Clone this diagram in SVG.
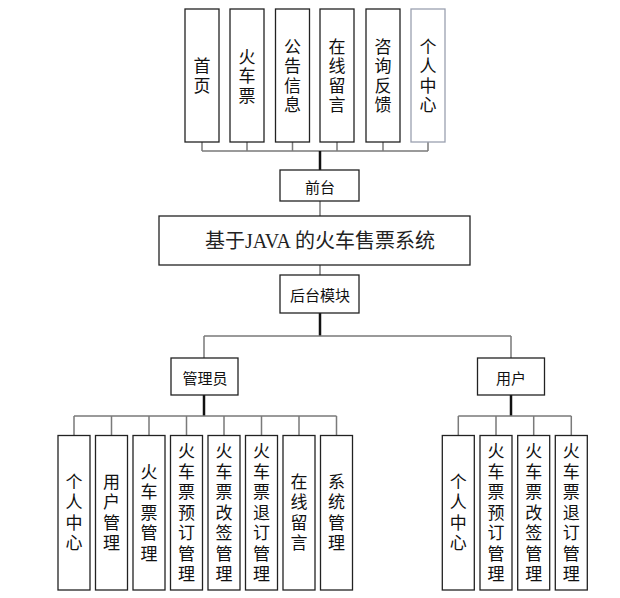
<svg xmlns="http://www.w3.org/2000/svg" width="620" height="598" viewBox="0 0 620 598">
<style>
  .box { fill: #ffffff; stroke: #222222; stroke-width: 1.3; }
  .lite { stroke: #9aa0b0; }
  .ln { fill: none; stroke: #7a7a7a; stroke-width: 1.5; }
  .stem { fill: none; stroke: #111111; stroke-width: 2.5; }
  .vt { font-family: "Noto Sans CJK SC", "Liberation Sans", sans-serif; font-size: 17px; fill: #111; text-anchor: middle; writing-mode: vertical-rl; letter-spacing: 2.5px; }
  .vb { font-family: "Noto Sans CJK SC", "Liberation Sans", sans-serif; font-size: 17px; fill: #111; text-anchor: middle; writing-mode: vertical-rl; letter-spacing: 3.5px; }
  .lbl { font-family: "Noto Sans CJK SC", "Liberation Sans", sans-serif; font-size: 15px; fill: #111; text-anchor: middle; dominant-baseline: central; }
  .title { font-family: "Liberation Serif", "Noto Sans CJK SC", serif; font-size: 20px; fill: #222; text-anchor: middle; dominant-baseline: central; }
</style>
<rect width="620" height="598" fill="#ffffff"/>

<g id="connectors">
  <path class="ln" d="M202,142 V151 M247,142 V151 M292.5,142 V151 M337,142 V151 M383,142 V151 M428,142 V151 M202,151 H428"/>
  <path class="stem" d="M320,151 V170"/>
  <path class="ln" d="M320,201 V216 M320,265 V275"/>
  <path class="stem" d="M320,313 V336"/>
  <path class="ln" d="M204,336 H511 M204,336 V358 M511,336 V358"/>
  <path class="stem" d="M204,395 V416"/>
  <path class="ln" d="M74,416 H336.5 M74,416 V435 M111.5,416 V435 M149,416 V435 M186.5,416 V435 M224,416 V435 M261.5,416 V435 M299,416 V435 M336.5,416 V435"/>
  <path class="stem" d="M511,395 V416"/>
  <path class="ln" d="M458.3,416 H571.3 M458.3,416 V435 M496,416 V435 M533.7,416 V435 M571.3,416 V435"/>
</g>

<g id="n-shouye"><rect class="box" x="185" y="9" width="34" height="133"/>
<text class="vt" x="202" y="77">首页</text></g>
<g id="n-huochepiao"><rect class="box" x="230" y="9" width="34" height="133"/>
<text class="vt" x="247" y="77">火车票</text></g>
<g id="n-gonggao"><rect class="box" x="275.5" y="9" width="34" height="133"/>
<text class="vt" x="292.5" y="77">公告信息</text></g>
<g id="n-liuyan"><rect class="box" x="320" y="9" width="34" height="133"/>
<text class="vt" x="337" y="77">在线留言</text></g>
<g id="n-zixun"><rect class="box" x="366" y="9" width="34" height="133"/>
<text class="vt" x="383" y="77">咨询反馈</text></g>
<g id="n-geren-top"><rect class="box lite" x="411" y="9" width="34" height="133"/>
<text class="vt" x="428" y="77">个人中心</text></g>

<g id="n-qiantai"><rect class="box" x="280" y="170" width="79" height="31"/>
<text class="lbl" x="320" y="186">前台</text></g>

<g id="n-system"><rect class="box" x="159" y="216" width="311" height="49"/>
<text class="title" x="320" y="241">基于JAVA 的火车售票系统</text></g>

<g id="n-houtai"><rect class="box" x="280" y="275" width="79" height="38"/>
<text class="lbl" x="320" y="294">后台模块</text></g>

<g id="n-admin"><rect class="box" x="171" y="358" width="67" height="37"/>
<text class="lbl" x="205" y="377">管理员</text></g>

<g id="n-user"><rect class="box" x="477.5" y="358" width="67" height="37"/>
<text class="lbl" x="511" y="377">用户</text></g>

<g id="a-geren"><rect class="box" x="58" y="435.5" width="32" height="154.5"/>
<text class="vb" x="74" y="514">个人中心</text></g>
<g id="a-yonghu"><rect class="box" x="95.5" y="435.5" width="32" height="154.5"/>
<text class="vb" x="111.5" y="514">用户管理</text></g>
<g id="a-piao"><rect class="box" x="133" y="435.5" width="32" height="154.5"/>
<text class="vb" x="149" y="514">火车票管理</text></g>
<g id="a-yuding"><rect class="box" x="170.5" y="435.5" width="32" height="154.5"/>
<text class="vb" x="186.5" y="514">火车票预订管理</text></g>
<g id="a-gaiqian"><rect class="box" x="208" y="435.5" width="32" height="154.5"/>
<text class="vb" x="224" y="514">火车票改签管理</text></g>
<g id="a-tuiding"><rect class="box" x="245.5" y="435.5" width="32" height="154.5"/>
<text class="vb" x="261.5" y="514">火车票退订管理</text></g>
<g id="a-liuyan"><rect class="box" x="283" y="435.5" width="32" height="154.5"/>
<text class="vb" x="299" y="514">在线留言</text></g>
<g id="a-xitong"><rect class="box" x="320.5" y="435.5" width="32" height="154.5"/>
<text class="vb" x="336.5" y="514">系统管理</text></g>

<g id="u-geren"><rect class="box" x="442.3" y="435.5" width="32" height="154.5"/>
<text class="vb" x="458.3" y="514">个人中心</text></g>
<g id="u-yuding"><rect class="box" x="480" y="435.5" width="32" height="154.5"/>
<text class="vb" x="496" y="514">火车票预订管理</text></g>
<g id="u-gaiqian"><rect class="box" x="517.7" y="435.5" width="32" height="154.5"/>
<text class="vb" x="533.7" y="514">火车票改签管理</text></g>
<g id="u-tuiding"><rect class="box" x="555.3" y="435.5" width="32" height="154.5"/>
<text class="vb" x="571.3" y="514">火车票退订管理</text></g>
</svg>
